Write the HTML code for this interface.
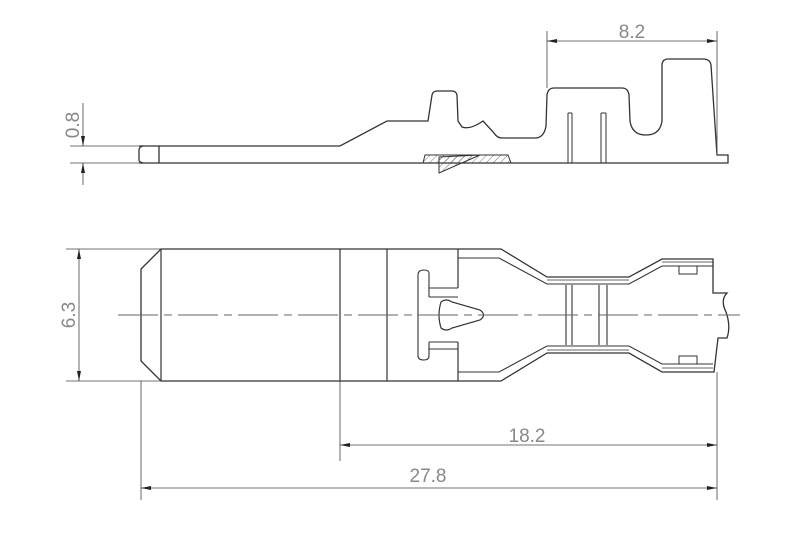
<!DOCTYPE html>
<html><head><meta charset="utf-8"><style>
html,body{margin:0;padding:0;background:#fff;}
svg{display:block;}
text{font-family:"Liberation Sans",sans-serif;fill:#888;font-size:19px;}
</style></head><body>
<svg width="800" height="542" viewBox="0 0 800 542" xmlns="http://www.w3.org/2000/svg">
<defs>
<pattern id="h" width="5" height="5" patternUnits="userSpaceOnUse" patternTransform="rotate(45)"><line x1="0" y1="0" x2="0" y2="5" stroke="#555" stroke-width="0.8"/></pattern>
<marker id="a" viewBox="0 0 10 4" refX="10" refY="2" markerWidth="10" markerHeight="4" orient="auto-start-reverse" markerUnits="userSpaceOnUse"><path d="M0,0 L10,2 L0,4z" fill="#222"/></marker>
</defs>
<g transform="translate(0,-2)">
<g fill="none" stroke="#333" stroke-width="1.3">
<path d="M159,148 L340,148 L387,123 L428,123 L432,97 Q433,93 437,93 L452,93 Q456,93 457,97 L458,123 L462,129 Q470,132 483,123 L494,135 Q497,140 502,140 L535,140 Q544,140 546,128 L547,97 Q548,90 554,90 L622,90 Q628,90 629,97 L630,123 Q632,137 646,137 Q660,137 662,123 L662,66 Q663,61 668,61 L703,61 Q710,61 711,67 L717,157 L728,157 L728,165 L139,165"/>
<path d="M139,148 L159,148 L159,165 M139,152 L139,162 M139,152 Q139,149 143,148 M139,162 Q139,164 143,165"/>
<path d="M568,115 L568,165 M572,115 L572,165 M568,115 L572,115 M601,115 L601,165 M606,115 L606,165 M601,115 L606,115" stroke-width="1"/>
<path d="M425,157 L508,157 L511,165 L423,165 Z" fill="url(#h)" stroke-width="1"/>
<path d="M439,159 L480,157 L439,175 Z" fill="url(#h)" stroke-width="1"/>
</g>
<g stroke="#444" stroke-width="0.8" fill="none">
<line x1="547" y1="33" x2="547" y2="90"/><line x1="717" y1="33" x2="717" y2="157"/>
<line x1="547" y1="43" x2="717" y2="43" marker-start="url(#a)" marker-end="url(#a)"/>
<line x1="70" y1="148" x2="139" y2="148"/><line x1="70" y1="165" x2="139" y2="165"/>
<line x1="83" y1="105" x2="83" y2="148" marker-end="url(#a)"/><line x1="83" y1="187" x2="83" y2="165" marker-end="url(#a)"/>
</g>
<text x="632" y="40" text-anchor="middle">8.2</text>
<text transform="translate(79,127) rotate(-90)" text-anchor="middle">0.8</text>
</g>
<g fill="none" stroke="#333" stroke-width="1.3">
<path d="M161,249 L501,249 L547,277 L629,277 L662,259 L713,259 L713,293 L727,293 Q720,300 726,312 Q731,326 727,338 L718,338 L714,372 L662,372 L629,353 L547,353 L501,381 L161,381 L141,361 L141,269 Z"/>
<path d="M161,249 L161,381 M340,249 L340,381 M387,249 L387,381 M458,249 L458,288 M458,342 L458,381" stroke-width="1.2"/>
<path d="M458,258 L499,258 L547,284 L629,284 L662,266 L713,266 M458,372 L499,372 L547,346 L629,346 L662,364 L713,364" stroke-width="1.1"/>
<path d="M547,280 L629,280 M547,350 L629,350 M662,262 L713,262 M662,368 L713,368" stroke-width="0.8"/>
<path d="M429,297 L458,297 M429,288 L458,288 M429,342 L458,342 M429,349 L458,349 M429,288 L429,273 Q429,270 424,270 Q418,270 418,275 L418,356 Q418,360 424,360 Q429,360 429,356 L429,342 M429,297 L429,288 M429,342 L429,349" stroke-width="1.1"/>
<path d="M441,302 Q446,298 452,302 L480,310 Q487,315 480,320 L452,328 Q446,332 441,328 Q437,315 441,302 Z" stroke-width="1.2"/>
<path d="M566,285 L566,345 M572,285 L572,345 M599,285 L599,345 M607,285 L607,345" stroke-width="1.1"/>
<path d="M679,266 L679,274 L697,274 L697,266 M679,364 L679,356 L697,356 L697,364" stroke-width="1"/>
</g>
<line x1="118" y1="315" x2="740" y2="315" stroke="#666" stroke-width="0.9" stroke-dasharray="40,6,8,6"/>
<g stroke="#444" stroke-width="0.8" fill="none">
<line x1="66" y1="249" x2="161" y2="249"/><line x1="66" y1="381" x2="161" y2="381"/>
<line x1="79" y1="249" x2="79" y2="381" marker-start="url(#a)" marker-end="url(#a)"/>
<line x1="141" y1="381" x2="141" y2="500"/><line x1="340" y1="381" x2="340" y2="461"/><line x1="717" y1="372" x2="717" y2="500"/>
<line x1="340" y1="445" x2="717" y2="445" marker-start="url(#a)" marker-end="url(#a)"/>
<line x1="141" y1="488" x2="717" y2="488" marker-start="url(#a)" marker-end="url(#a)"/>
</g>
<text x="527" y="442" text-anchor="middle">18.2</text>
<text x="428" y="482" text-anchor="middle">27.8</text>
<text transform="translate(75,315) rotate(-90)" text-anchor="middle">6.3</text>
</svg>
</body></html>
